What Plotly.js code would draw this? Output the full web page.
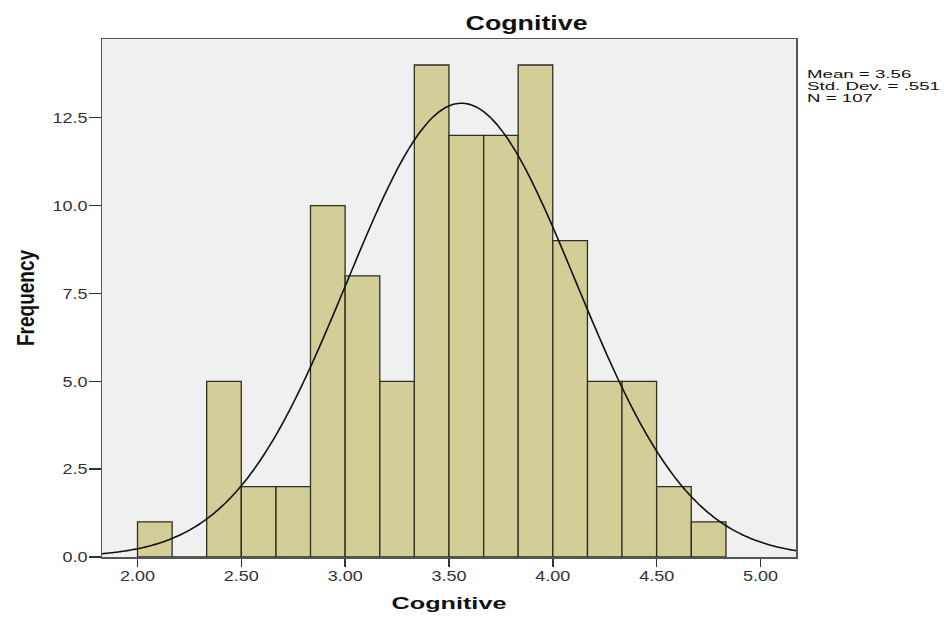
<!DOCTYPE html>
<html>
<head>
<meta charset="utf-8">
<script src="https://cdn.plot.ly/plotly-3.0.1.min.js"></script>
<style>html,body{margin:0;padding:0;background:#fff;}#chart{width:944px;height:618px;}</style>
</head>
<body>
<div id="chart"></div>
<script>
// Histogram bins (lower edges) and frequencies
const binLower = [2.000, 2.167, 2.333, 2.500, 2.667, 2.833, 3.000, 3.167, 3.333, 3.500, 3.667, 3.833, 4.000, 4.167, 4.333, 4.500, 4.667];
const counts   = [1, 0, 5, 2, 2, 10, 8, 5, 14, 12, 12, 14, 9, 5, 5, 2, 1];
const binWidth = 1 / 6;
// Summary statistics
const statMean = 3.56;
const statSD = 0.551;
const statN = 107;
const statLabels = ["Mean = 3.56", "Std. Dev. = .551", "N = 107"];
const yTickVals = [0, 2.5, 5, 7.5, 10, 12.5];
const yTickText = ["0.0", "2.5", "5.0", "7.5", "10.0", "12.5"];
const xTickVals = [2, 2.5, 3, 3.5, 4, 4.5, 5];
const xTickText = ["2.00", "2.50", "3.00", "3.50", "4.00", "4.50", "5.00"];
const chartTitle = "Cognitive";
const xTitle = "Cognitive";
const yTitle = "Frequency";

const xMin = 1.829, xMax = 5.171;
const centers = binLower.map(v => v + binWidth / 2);

// Fitted normal curve from reported mean / SD / N
const cx = [], cy = [];
const nPts = 300;
for (let i = 0; i <= nPts; i++) {
  const x = xMin + (xMax - xMin) * i / nPts;
  const z = (x - statMean) / statSD;
  cx.push(x);
  cy.push(statN * binWidth * Math.exp(-0.5 * z * z) / (statSD * Math.sqrt(2 * Math.PI)));
}

const traces = [
  {
    type: 'bar', x: centers, y: counts, width: binWidth,
    marker: {color: '#d3ce97', line: {color: '#2e2e22', width: 1.3}},
    hoverinfo: 'x+y'
  },
  {
    type: 'scatter', mode: 'lines', x: cx, y: cy,
    line: {color: '#111111', width: 1.6, shape: 'spline'},
    hoverinfo: 'skip'
  }
];

const font = 'Liberation Sans, Arial, sans-serif';
const annotations = statLabels.map((t, i) => ({
  text: t, xref: 'paper', yref: 'paper', x: 1, xshift: 9, xanchor: 'left',
  y: 1, yshift: -35 - i * 12, yanchor: 'middle', showarrow: false,
  font: {family: font, size: 11, color: '#111'}
}));
annotations.push({
  text: '<b>' + chartTitle + '</b>', xref: 'paper', yref: 'paper', x: (526 - 101.5) / (796 - 101.5),
  xanchor: 'center', y: 1, yshift: 16, yanchor: 'middle', showarrow: false,
  font: {family: font, size: 20, color: '#111'}
});

const layout = {
  width: 944, height: 618,
  margin: {l: 101.5, r: 148, t: 38.5, b: 61},
  paper_bgcolor: '#ffffff', plot_bgcolor: '#f0f0f0',
  showlegend: false, bargap: 0,
  annotations: annotations,
  xaxis: {
    range: [xMin, xMax], tickvals: xTickVals, ticktext: xTickText,
    ticks: 'outside', ticklen: 8, tickwidth: 1.5, tickcolor: '#333',
    ticklabelstandoff: -3,
    showgrid: false, zeroline: false,
    showline: true, mirror: true, linecolor: '#555', linewidth: 1.5,
    tickfont: {family: font, size: 15, color: '#333'},
    title: {text: '<b>' + xTitle + '</b>', font: {family: font, size: 17, color: '#111'}, standoff: 13}
  },
  yaxis: {
    range: [0, 14.74], tickvals: yTickVals, ticktext: yTickText,
    ticks: 'outside', ticklen: 12, tickwidth: 1.5, tickcolor: '#333',
    ticklabelstandoff: -2,
    showgrid: false, zeroline: false,
    showline: true, mirror: true, linecolor: '#555', linewidth: 1.5,
    tickfont: {family: font, size: 15, color: '#333'},
    title: {text: '<b>' + yTitle + '</b>', font: {family: font, size: 19, color: '#111'}, standoff: 20}
  }
};

// Horizontal stretch of a text element (the reference's lettering is wide)
function stretch(el, f, mode) {
  if (!el) return;
  const r = el.getBoundingClientRect();
  const sx = mode === 'left' ? r.left : mode === 'right' ? r.right : (r.left + r.right) / 2;
  const m = el.parentNode.getScreenCTM();
  const ax = (sx - m.e) / m.a;
  const old = el.getAttribute('transform') || '';
  el.setAttribute('transform', 'translate(' + ax + ',0) scale(' + f + ',1) translate(' + (-ax) + ',0) ' + old);
}
function widthOf(el) { return el.getBoundingClientRect().width; }

Plotly.newPlot('chart', traces, layout, {displayModeBar: false, staticPlot: true}).then(function (gd) {
  const ann = gd.querySelectorAll('.annotation-text');
  // stats lines: fit the widest line to the reference width
  const sf = 133 / widthOf(ann[1]);
  for (let i = 0; i < 3; i++) stretch(ann[i], sf, 'left');
  // chart title
  stretch(ann[3], 122 / widthOf(ann[3]), 'center');
  // axis titles
  const xt = gd.querySelector('.xtitle');
  stretch(xt, 115 / widthOf(xt), 'center');
  stretch(gd.querySelector('.ytitle'), 1.3, 'center');
  // tick labels
  gd.querySelectorAll('.xtick text').forEach(t => stretch(t, 1.2, 'center'));
  gd.querySelectorAll('.ytick text').forEach(t => stretch(t, 1.2, 'right'));
});
</script>
</body>
</html>
